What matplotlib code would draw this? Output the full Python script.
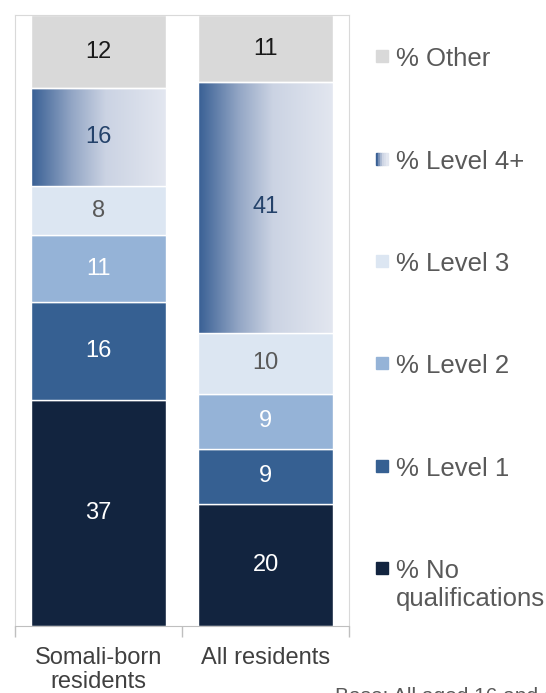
import matplotlib
matplotlib.use('Agg')
import matplotlib.pyplot as plt
from matplotlib.colors import LinearSegmentedColormap
from matplotlib.patches import Rectangle
import numpy as np

plt.rcParams['font.family'] = ['Liberation Sans', 'DejaVu Sans']

# data (percent), stacked bottom to top
groups = ['Somali-born\nresidents', 'All residents']
levels = ['% No\nqualifications', '% Level 1', '% Level 2', '% Level 3', '% Level 4+', '% Other']
values = {
    '% No\nqualifications': [37, 20],
    '% Level 1': [16, 9],
    '% Level 2': [11, 9],
    '% Level 3': [8, 10],
    '% Level 4+': [16, 41],
    '% Other': [12, 11],
}

colors = {
    '% No\nqualifications': '#12243f',
    '% Level 1': '#366092',
    '% Level 2': '#95b3d7',
    '% Level 3': '#dce6f2',
    '% Level 4+': None,  # gradient
    '% Other': '#d9d9d9',
}
label_colors = {
    '% No\nqualifications': 'white',
    '% Level 1': 'white',
    '% Level 2': 'white',
    '% Level 3': '#595959',
    '% Level 4+': '#24426a',
    '% Other': '#1a1a1a',
}
grad = LinearSegmentedColormap.from_list(
    'l4', [(0, '#385f94'), (0.3, '#93a6c5'), (0.55, '#cbd3e3'), (1, '#e3e7f0')])

W, H = 546, 693
fig = plt.figure(figsize=(W / 100, H / 100), dpi=100)
ax = fig.add_axes([15 / W, 1 - 626 / H, (349 - 15) / W, (626 - 15) / H])

width = 0.81
x = np.arange(len(groups))
bottoms = np.zeros(len(groups))
for lev in levels:
    vals = np.array(values[lev], dtype=float)
    if colors[lev] is None:
        bars = ax.bar(x, vals, width, bottom=bottoms, color='none', edgecolor='white', linewidth=1, zorder=3)
        for b in bars:
            x0, y0 = b.get_x(), b.get_y()
            im = ax.imshow(np.linspace(0, 1, 256).reshape(1, -1), cmap=grad, aspect='auto',
                           extent=[x0, x0 + b.get_width(), y0, y0 + b.get_height()], zorder=2)
            im.set_clip_path(b)
    else:
        ax.bar(x, vals, width, bottom=bottoms, color=colors[lev], edgecolor='white', linewidth=1, zorder=2)
    for xi, v, b0 in zip(x, vals, bottoms):
        ax.text(xi, b0 + v / 2, f'{v:.0f}', ha='center', va='center', fontsize=17,
                color=label_colors[lev], zorder=4)
    bottoms += vals

ax.set_xlim(-0.5, 1.5)
ax.set_ylim(0, 100)
ax.set_yticks([])
ax.set_xticks(x)
ax.set_xticklabels(groups, fontsize=17, color='#404040', linespacing=1.1)
ax.tick_params(axis='x', which='major', length=0, pad=15)
ax.set_xticks([-0.5, 0.5, 1.5], minor=True)
ax.tick_params(axis='x', which='minor', length=8, color='#bfbfbf', width=1)
for s in ['left', 'top', 'right']:
    ax.spines[s].set_color('#d9d9d9')
ax.spines['bottom'].set_color('#bfbfbf')

# legend drawn by hand, top to bottom
leg_y = [56, 159, 261, 363, 466, 568]
for lev, yy in zip(levels[::-1], leg_y):
    yf = 1 - yy / H
    if colors[lev] is None:
        for k in range(6):
            fig.patches.append(Rectangle((376 / W + k * 2 / W, yf - 6 / H), 2 / W, 12 / H,
                                         transform=fig.transFigure, color=grad(k / 5)))
    else:
        fig.patches.append(Rectangle((376 / W, yf - 6 / H), 12 / W, 12 / H,
                                     transform=fig.transFigure, color=colors[lev]))
    fig.text(396 / W, yf + 9 / H, lev, ha='left', va='top', fontsize=18.5, color='#595959',
             linespacing=1.2)

fig.text(335 / W, 1 - 687 / H, 'Base: All aged 16 and over', ha='left', va='top',
         fontsize=15, color='#595959')

fig.savefig('out.png', dpi=100)
